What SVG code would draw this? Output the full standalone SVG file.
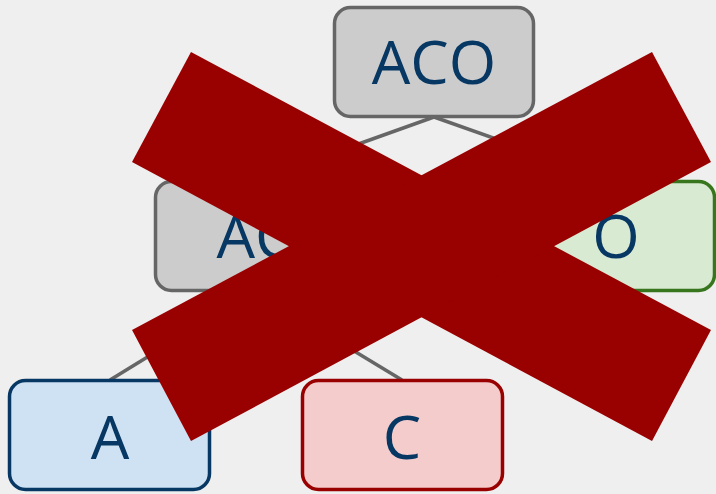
<svg xmlns="http://www.w3.org/2000/svg" width="716" height="494" viewBox="0 0 716 494">
<style>
.box{stroke-width:3.5}
.lbl{font-family:"Open Sans","Noto Sans",sans-serif;font-size:61px;fill:#073763;text-anchor:middle}
.edge{stroke:#666666;stroke-width:3.5;fill:none}
.gray{fill:#cccccc;stroke:#666666}
.green{fill:#d9ead3;stroke:#38761d}
.blue{fill:#cfe2f3;stroke:#073763}
.red{fill:#f4cccc;stroke:#990000}
.cross{fill:#990000}
</style>
<rect width="716" height="494" fill="#efefef"/>
<g id="connectors">
<line class="edge" x1="434" y1="117" x2="255" y2="181"/>
<line class="edge" x1="434" y1="117" x2="615" y2="181"/>
<line class="edge" x1="255" y1="291" x2="110" y2="380"/>
<line class="edge" x1="255" y1="291" x2="402" y2="380"/>
</g>
<g id="node-ACO">
<rect class="box gray" x="334.5" y="7.5" width="199" height="109" rx="16"/>
<text class="lbl" x="434" y="84">ACO</text>
</g>
<g id="node-AC">
<rect class="box gray" x="155.5" y="181.5" width="199" height="109" rx="16"/>
<text class="lbl" x="255" y="258">AC</text>
</g>
<g id="node-O">
<rect class="box green" x="515.5" y="181.5" width="199" height="109" rx="16"/>
<text class="lbl" x="616" y="258">O</text>
</g>
<g id="node-A">
<rect class="box blue" x="9.5" y="380.5" width="200" height="109" rx="16"/>
<text class="lbl" x="110" y="459">A</text>
</g>
<g id="node-C">
<rect class="box red" x="302.5" y="380.5" width="200" height="109" rx="16"/>
<text class="lbl" x="402" y="459">C</text>
</g>
<g id="cross">
<polygon class="cross" points="191,52 711,330 652,441 132,162"/>
<polygon class="cross" points="652,52 711,162 191,441 132,330"/>
</g>
</svg>
